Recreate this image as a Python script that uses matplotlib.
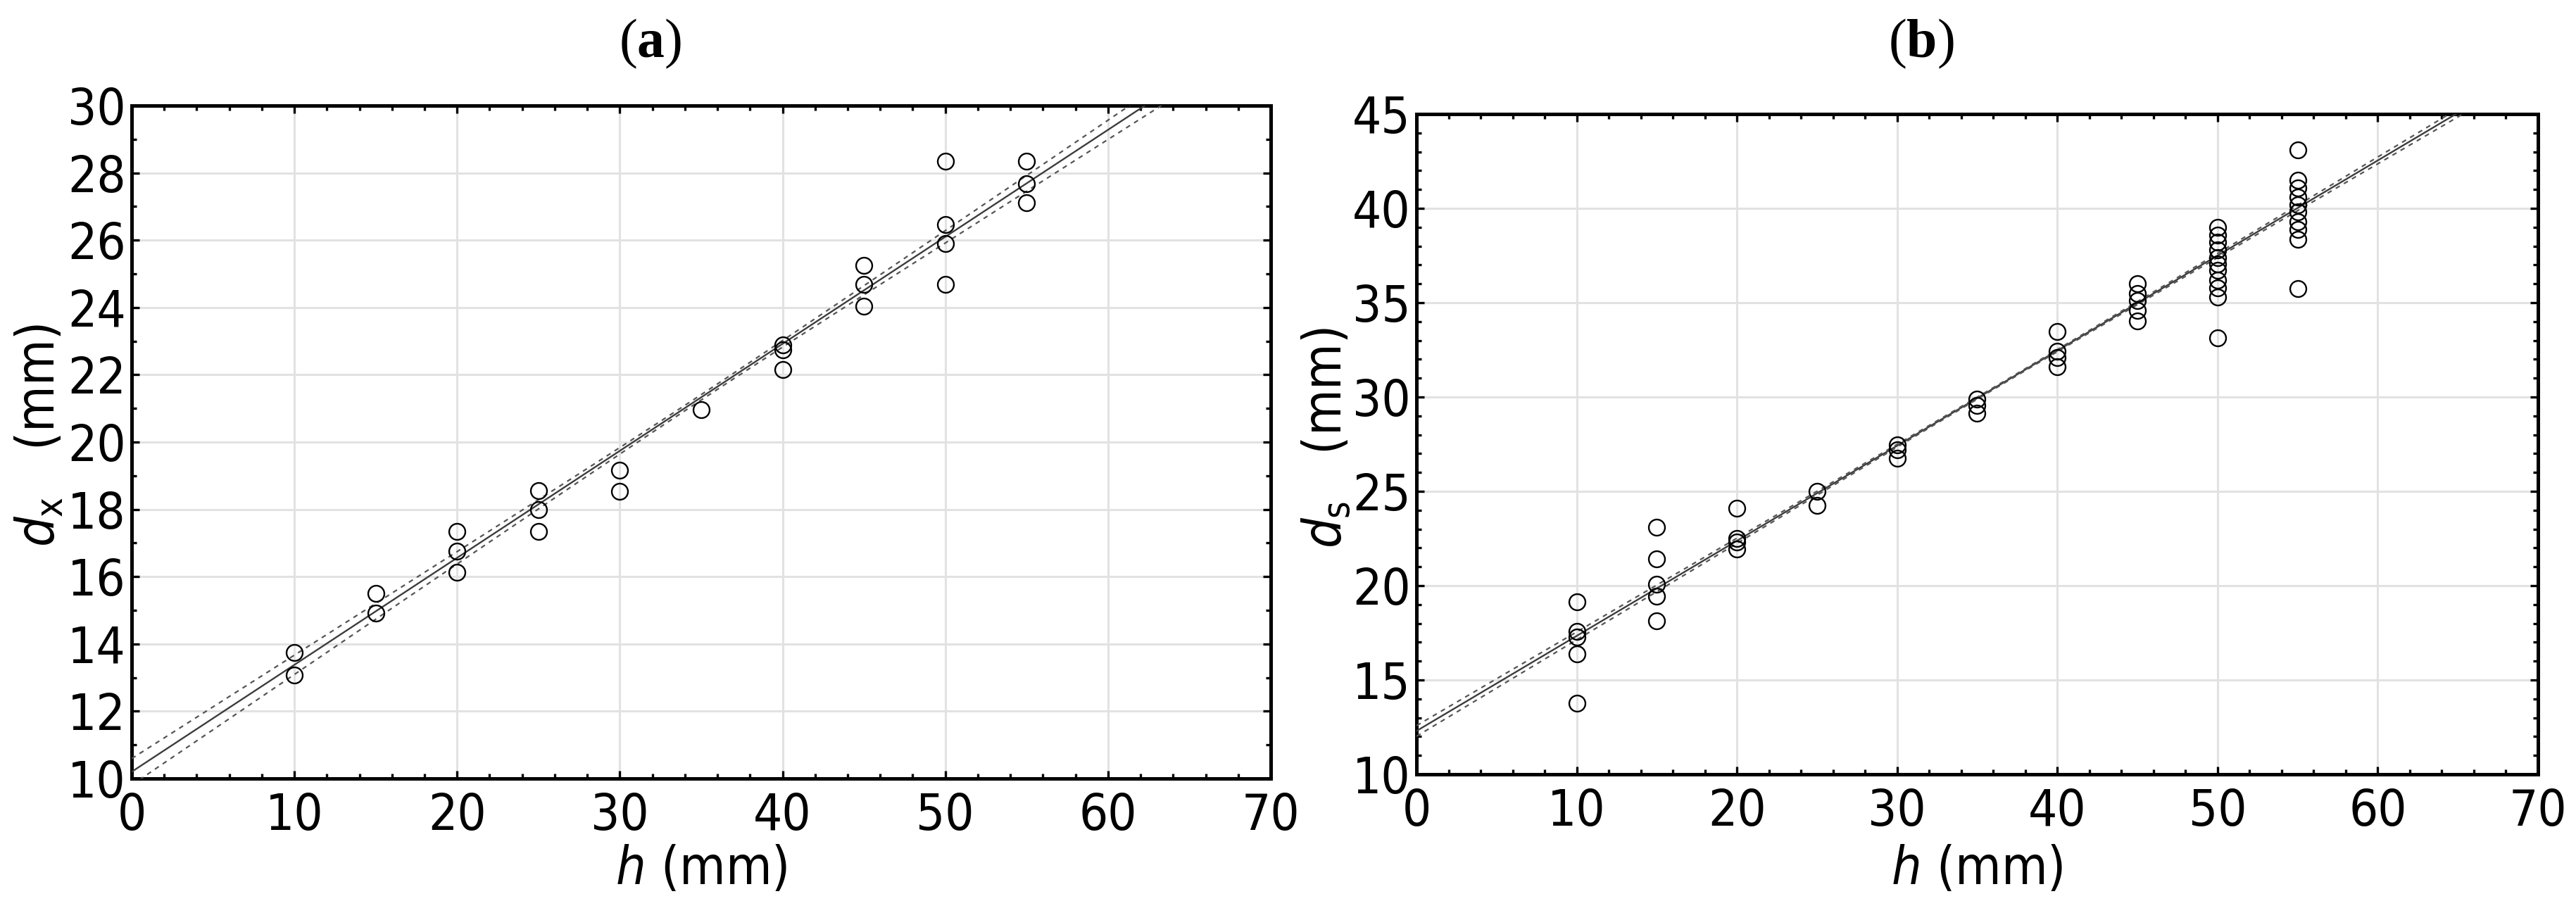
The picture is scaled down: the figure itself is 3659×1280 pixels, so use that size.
import numpy as np
import matplotlib
matplotlib.use('Agg')
import matplotlib.pyplot as plt
from matplotlib.ticker import MultipleLocator


# fonts
plt.rcParams['font.family'] = ['DejaVu Sans Condensed', 'DejaVu Sans']
plt.rcParams['font.stretch'] = 'condensed'
plt.rcParams['mathtext.fontset'] = 'custom'
plt.rcParams['mathtext.rm'] = 'DejaVu Sans Condensed'
plt.rcParams['mathtext.it'] = 'DejaVu Sans Condensed:italic'
plt.rcParams['mathtext.bf'] = 'Liberation Serif:bold'

# panel (a) data
h_a = [10, 10, 15, 15, 20, 20, 20, 25, 25, 25, 30, 30, 35, 40, 40, 40,
       45, 45, 45, 50, 50, 50, 50, 55, 55, 55]
dx_a = [13.74, 13.07, 15.50, 14.91, 17.34, 16.75, 16.13, 18.56, 17.99, 17.34,
        19.17, 18.53, 20.96, 22.89, 22.75, 22.15, 25.25, 24.68, 24.03,
        28.34, 26.47, 25.90, 24.69, 28.34, 27.68, 27.11]
fit_a = (10.2, 0.318)          # intercept, slope
band_a = (0.08, 0.011, 35.0)   # half-width at centre, growth, centre

# panel (b) data
h_b = [10, 10, 10, 10, 10,
       15, 15, 15, 15, 15,
       20, 20, 20, 20,
       25, 25,
       30, 30, 30,
       35, 35, 35,
       40, 40, 40, 40,
       45, 45, 45, 45, 45,
       50, 50, 50, 50, 50, 50, 50, 50, 50, 50, 50,
       55, 55, 55, 55, 55, 55, 55, 55, 55, 55]
ds_b = [19.13, 17.58, 17.27, 16.39, 13.78,
        23.11, 21.43, 20.06, 19.44, 18.13,
        24.10, 22.50, 22.30, 21.93,
        25.02, 24.25,
        27.45, 27.20, 26.75,
        29.90, 29.55, 29.15,
        33.46, 32.41, 32.10, 31.60,
        36.00, 35.50, 35.10, 34.60, 34.05,
        39.00, 38.60, 38.20, 37.80, 37.40, 37.05, 36.70, 36.20, 35.80, 35.30, 33.15,
        43.10, 41.50, 41.10, 40.60, 40.20, 39.80, 39.30, 38.90, 38.35, 35.74]
fit_b = (12.3, 0.504)
band_b = (0.05, 0.0075, 37.0)

tick_size = 52
label_size = 54


def style_axes(ax, ymin, ymax, ymajor):
    ax.set_xlim(0, 70)
    ax.set_ylim(ymin, ymax)
    ax.xaxis.set_major_locator(MultipleLocator(10))
    ax.xaxis.set_minor_locator(MultipleLocator(2))
    ax.yaxis.set_major_locator(MultipleLocator(ymajor))
    ax.yaxis.set_minor_locator(MultipleLocator(1))
    ax.grid(True, which='major', color='#e2e2e2', linewidth=2.2, zorder=0)
    ax.set_axisbelow(True)
    ax.tick_params(which='both', direction='in', top=True, right=True,
                   width=2.4, color='black', labelsize=tick_size)
    ax.tick_params(which='major', length=8)
    ax.tick_params(which='minor', length=5)
    ax.tick_params(axis='y', pad=6)
    ax.tick_params(axis='x', pad=14)
    for sp in ax.spines.values():
        sp.set_linewidth(3.6)
        sp.set_color('black')


def draw_fit(ax, fit, band):
    xs = np.linspace(0, 70, 400)
    y = fit[0] + fit[1] * xs
    hw = np.sqrt(band[0] ** 2 + (band[1] * (xs - band[2])) ** 2)
    ax.plot(xs, y, color='#3c3c3c', linewidth=1.7, zorder=3)
    ax.plot(xs, y + hw, color='#555555', linewidth=1.6,
            linestyle=(0, (3, 3)), zorder=3)
    ax.plot(xs, y - hw, color='#555555', linewidth=1.6,
            linestyle=(0, (3, 3)), zorder=3)


fig = plt.figure(figsize=(36.59, 12.8), dpi=100)
ax_a = fig.add_axes([0.0511, 0.1359, 0.4422, 0.7469])
ax_b = fig.add_axes([0.5499, 0.1406, 0.4353, 0.7328])

# (a)
style_axes(ax_a, 10, 30, 2)
draw_fit(ax_a, fit_a, band_a)
ax_a.plot(h_a, dx_a, linestyle='none', marker='o', markersize=16.5,
          markerfacecolor='none', markeredgecolor='black',
          markeredgewidth=1.7, zorder=4)
ax_a.set_xlabel(r'$h$ (mm)', fontsize=label_size)
ax_a.set_ylabel(r'$d_{\mathrm{x}}$   (mm)', fontsize=label_size)

# (b)
style_axes(ax_b, 10, 45, 5)
draw_fit(ax_b, fit_b, band_b)
ax_b.plot(h_b, ds_b, linestyle='none', marker='o', markersize=16.5,
          markerfacecolor='none', markeredgecolor='black',
          markeredgewidth=1.7, zorder=4)
ax_b.set_xlabel(r'$h$ (mm)', fontsize=label_size)
ax_b.set_ylabel(r'$d_{\mathrm{s}}$   (mm)', fontsize=label_size)

for ax, yl in ((ax_a, -0.135), (ax_b, -0.144)):
    ax.xaxis.set_label_coords(0.5, yl)
    ax.xaxis.label.set_va('center')
    ax.yaxis.set_label_coords(-0.0805, 0.51)
    ax.yaxis.label.set_va('center')

fig.text(0.2525, 0.9516, r'($\mathbf{a}$)', fontsize=56,
         family='Liberation Serif', ha='center', va='center')
fig.text(0.7458, 0.9516, r'($\mathbf{b}$)', fontsize=56,
         family='Liberation Serif', ha='center', va='center')

fig.savefig('out.png', dpi=100)
